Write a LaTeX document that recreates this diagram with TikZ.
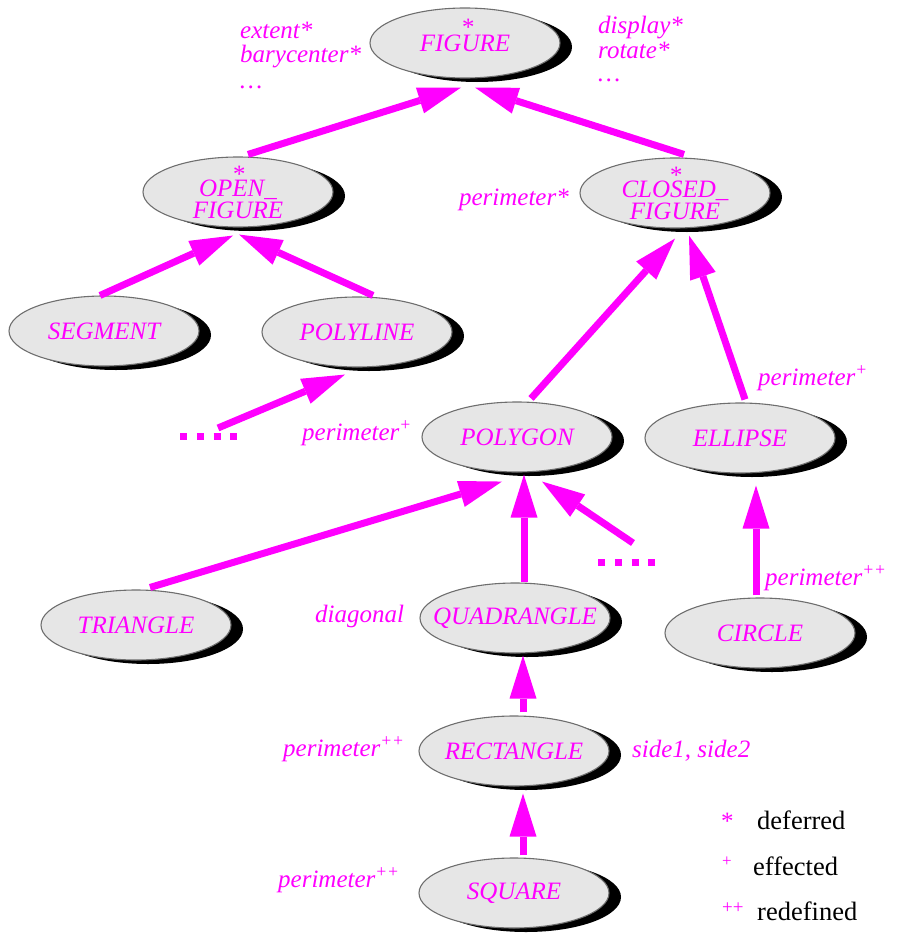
\documentclass[tikz,border=0pt]{standalone}
\usepackage{fontspec}
\setmainfont{Liberation Serif}
\usetikzlibrary{shapes.geometric,arrows.meta,shadows,calc}
\definecolor{mag}{HTML}{FF00FF}
\definecolor{nodegray}{HTML}{E6E6E6}
\definecolor{rimgray}{HTML}{6E6E6E}
\newcommand\clsfont{\fontsize{25}{22}\selectfont\itshape}
\newcommand\lblfont{\fontsize{25}{28}\selectfont\itshape}
\newcommand\legfont{\fontsize{26.5}{30}\selectfont}
\tikzset{
  cls/.style={ellipse, draw=rimgray, line width=1.1pt, fill=nodegray,
    minimum width=190pt, minimum height=70pt, inner xsep=-45pt, inner ysep=-14pt,
    align=center, font=\clsfont, text=mag,
    drop shadow={shadow xshift=12pt, shadow yshift=-4pt, fill=black, opacity=1}},
  lbl/.style={inner sep=0pt, font=\lblfont, text=mag},
  leg/.style={inner sep=0pt, font=\legfont, text=black},
  legmark/.style={inner sep=0pt, text=mag},
  inh/.style={draw=mag, line width=7pt,
    -{Triangle[length=43pt,width=27pt,line width=0pt]}},
  dotsq/.style={draw=mag, line width=7pt, dash pattern=on 7pt off 9.8pt},
}
\begin{document}
\begin{tikzpicture}[x=1pt,y=-1pt]
\useasboundingbox (0,0) rectangle (900,937);

% classes
\node[cls] (fig) at (465,43) {FIGURE};
\node[lbl, anchor=base] (figstar) at (467,35) {*};
\node[cls] (open) at (238,192) {*\\[-8pt]OPEN\_\\FIGURE};
\node[cls] (closed) at (675,193) {*\\[-8pt]CLOSED\_\\FIGURE};
\node[cls] (seg) at (104,331) {SEGMENT};
\node[cls] (polyl) at (357,332) {POLYLINE};
\node[cls] (polyg) at (517,437) {POLYGON};
\node[cls] (ell) at (740,438) {ELLIPSE};
\node[cls] (tri) at (136,625) {TRIANGLE};
\node[cls] (quad) at (515,618) {QUADRANGLE};
\node[cls] (circ) at (760,633) {CIRCLE};
\node[cls] (rect) at (514,751) {RECTANGLE};
\node[cls] (sq) at (514,893) {SQUARE};

% dotted continuations
\coordinate (dA1) at (180,436.5);
\coordinate (dA2) at (238,436.5);
\coordinate (dB1) at (598,562);
\coordinate (dB2) at (655,562);
\coordinate (dAs) at (218,428);
\coordinate (dBs) at (633,543);
\draw[dotsq] (dA1) -- (dA2);
\draw[dotsq] (dB1) -- (dB2);

% inheritance arrows
\draw[inh] ($(open.north)+(10,-2)$) -- ($(fig.south)+(-4,9)$);
\draw[inh] ($(closed.north)+(9,-3)$) -- ($(fig.south)+(10,9)$);
\draw[inh] ($(seg.north)+(-4,0)$) -- ($(open.south)+(-5,8)$);
\draw[inh] ($(polyl.north)+(16,-1)$) -- ($(open.south)+(1,7)$);
\draw[inh] (dAs) -- ($(polyl.south)+(-12,7)$);
\draw[inh] ($(polyg.north)+(14,-3)$) -- ($(closed.south)+(0,10)$);
\draw[inh] ($(ell.north)+(5,-3)$) -- ($(closed.south)+(14,7)$);
\draw[inh] ($(tri.north)+(14,-2)$) -- ($(polyg.south)+(-15,9)$);
\draw[inh] ($(quad.north)+(9,0)$) -- ($(polyg.south)+(7,2)$);
\draw[inh] (dBs) -- ($(polyg.south)+(25,9)$);
\draw[inh] ($(circ.north)+(-4,-2)$) -- ($(ell.south)+(16,12)$);
\draw[inh] ($(rect.north)+(9,-3)$) -- ($(quad.south)+(8,2)$);
\draw[inh] ($(sq.north)+(9,-2)$) -- ($(rect.south)+(9,7)$);

% feature labels
\node[lbl, anchor=base west] (f1) at (240,38) {extent*};
\node[lbl, anchor=base west] (f2) at (240,62) {barycenter*};
\node[lbl, anchor=base west] (f3) at (240,88) {\ldots};
\node[lbl, anchor=base west] (f4) at (598,33) {display*};
\node[lbl, anchor=base west] (f5) at (598,58) {rotate*};
\node[lbl, anchor=base west] (f6) at (598,81) {\ldots};
\node[lbl, anchor=base east] (f7) at (569,205) {perimeter*};
\node[lbl, anchor=base west] (f8) at (302,440) {perimeter\textsuperscript{+}};
\node[lbl, anchor=base west] (f9) at (758,385) {perimeter\textsuperscript{+}};
\node[lbl, anchor=base west] (f10) at (765,585) {perimeter\textsuperscript{++}};
\node[lbl, anchor=base west] (f11) at (315,622) {diagonal};
\node[lbl, anchor=base west] (f12) at (283,756) {perimeter\textsuperscript{++}};
\node[lbl, anchor=base west] (f13) at (632,757) {side1, side2};
\node[lbl, anchor=base west] (f14) at (278,887) {perimeter\textsuperscript{++}};

% legend
\node[legmark, font=\fontsize{25}{28}\selectfont, anchor=base west] (l1m) at (721,829) {*};
\node[leg, anchor=base west] (l1) at (757,829) {deferred};
\node[legmark, font=\fontsize{17}{20}\selectfont, anchor=base west] (l2m) at (722,866) {+};
\node[leg, anchor=base west] (l2) at (753,875) {effected};
\node[legmark, font=\fontsize{19}{20}\selectfont, anchor=base west] (l3m) at (722,913) {++};
\node[leg, anchor=base west] (l3) at (757,920) {redefined};
\end{tikzpicture}
\end{document}
